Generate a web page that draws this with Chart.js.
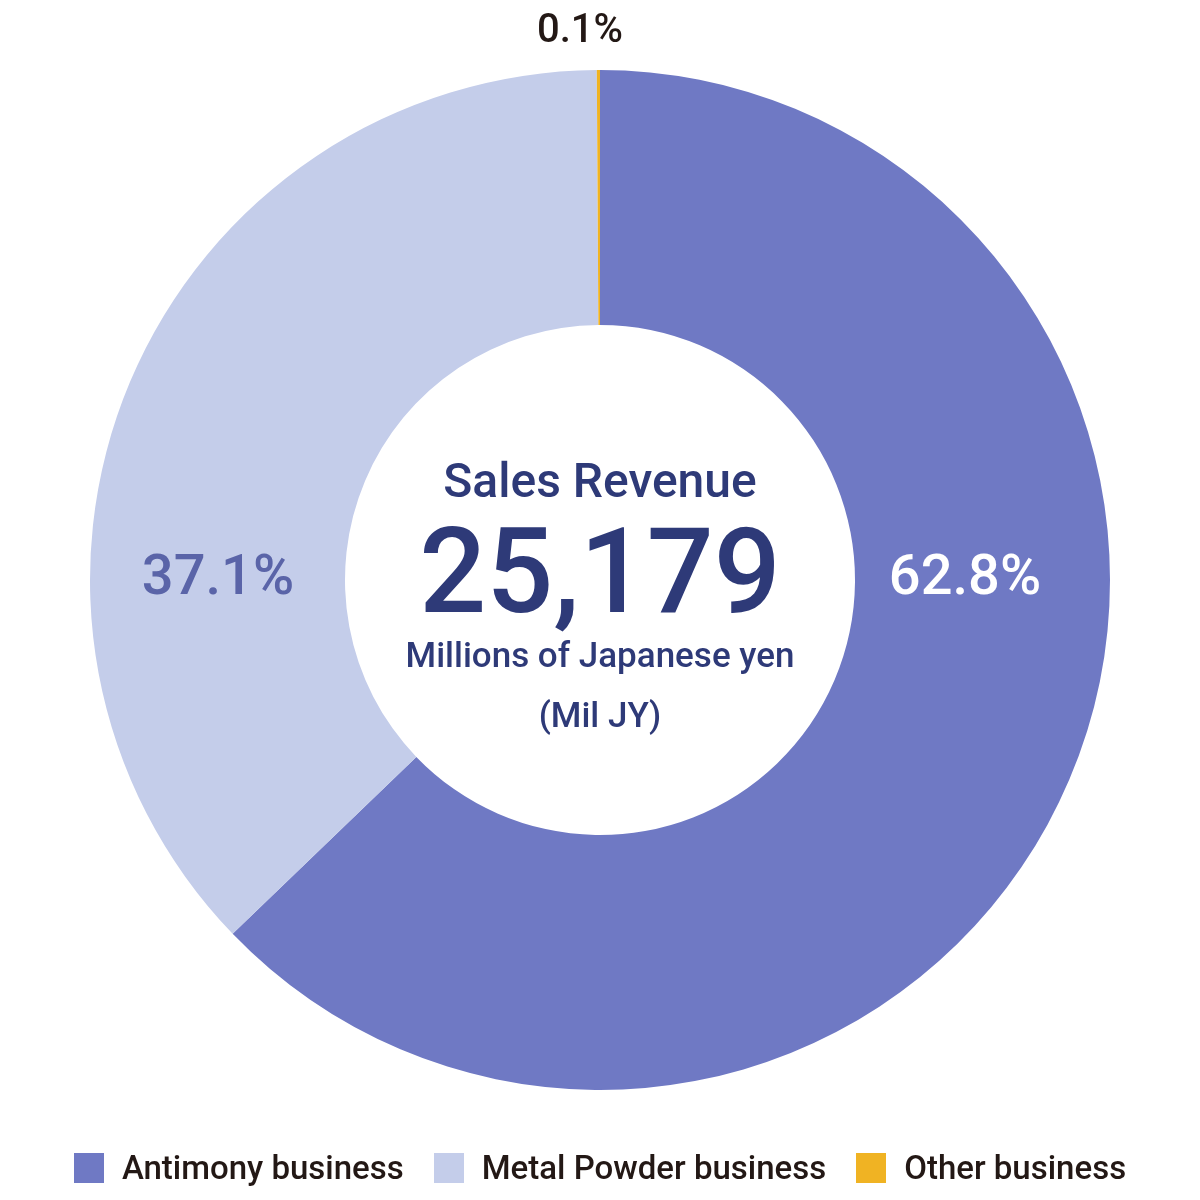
<!DOCTYPE html>
<html>
<head>
<meta charset="utf-8">
<script src="https://cdn.jsdelivr.net/npm/chart.js@4/dist/chart.umd.min.js"></script>
<style>
  body { margin: 0; background: #fff; }
  #wrap { position: relative; width: 1200px; height: 1200px; }
  #legend { position: absolute; left: 0; width: 1200px; top: 1148px; display: flex; justify-content: center; gap: 30px;
    font-family: Roboto, sans-serif; font-size: 33px; font-weight: 500; color: #231815; }
  #legend span.item { display: flex; align-items: center; }
  #legend i { display: inline-block; width: 30px; height: 30px; margin-right: 18px; }
</style>
</head>
<body>
<div id="wrap">
  <canvas id="pie" width="1200" height="1200"></canvas>
  <div id="legend"></div>
</div>
<script>
const categories = ['Antimony business', 'Metal Powder business', 'Other business'];
const shares = [62.8, 37.1, 0.1];
const colors = ['#6f79c4', '#c4cdea', '#f0b323'];
const labelColors = ['#ffffff', '#5a64a8', '#231815'];
const totalRevenue = '25,179';

// legend
const legend = document.getElementById('legend');
categories.forEach((c, i) => {
  legend.innerHTML += `<span class="item"><i style="background:${colors[i]}"></i>${c}</span>`;
});

const textPlugin = {
  id: 'texts',
  afterDraw(chart) {
    const ctx = chart.ctx;
    const meta = chart.getDatasetMeta(0);
    const cx = meta.data[0].x, cy = meta.data[0].y;
    ctx.save();
    ctx.textAlign = 'center';
    ctx.textBaseline = 'middle';
    // percentage labels
    const spots = [[cx + 365, cy], [cx - 382, cy], [cx - 20, cy - 548]];
    const sizes = [56, 56, 40];
    shares.forEach((v, i) => {
      ctx.fillStyle = labelColors[i];
      ctx.font = `500 ${sizes[i]}px Roboto, sans-serif`;
      ctx.fillText(v.toFixed(1) + '%', spots[i][0], spots[i][1]);
    });
    // centre text
    ctx.fillStyle = '#2e3a78';
    ctx.font = '500 48px Roboto, sans-serif';
    ctx.fillText('Sales Revenue', cx, cy - 95);
    ctx.font = '500 118px Roboto, sans-serif';
    ctx.fillText(totalRevenue, cx, cy + 2);
    ctx.font = '500 35px Roboto, sans-serif';
    ctx.fillText('Millions of Japanese yen', cx, cy + 78);
    ctx.fillText('(Mil JY)', cx, cy + 138);
    ctx.restore();
  }
};

new Chart(document.getElementById('pie'), {
  type: 'doughnut',
  data: {
    labels: categories,
    datasets: [{ data: shares, backgroundColor: colors, borderWidth: 0 }]
  },
  options: {
    responsive: false,
    animation: false,
    cutout: '50%',
    layout: { padding: { top: 70, bottom: 110, left: 90, right: 90 } },
    plugins: { legend: { display: false }, tooltip: { enabled: false } }
  },
  plugins: [textPlugin]
});
</script>
</body>
</html>
